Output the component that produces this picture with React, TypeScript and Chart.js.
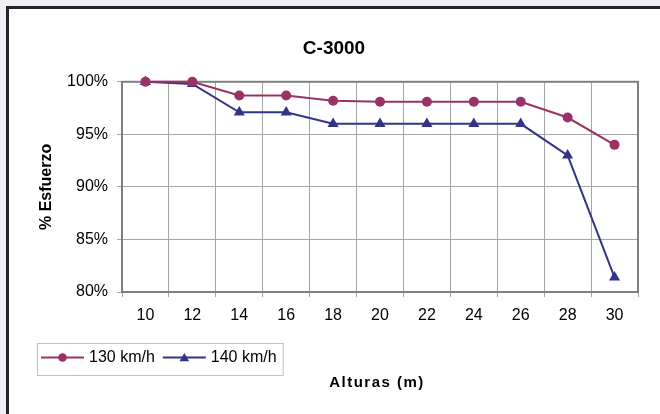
import React, { useEffect, useRef } from 'react';
import { Chart, registerables } from 'chart.js';

Chart.register(...registerables);

// Heights (m) along the category axis
const alturas = ['10', '12', '14', '16', '18', '20', '22', '24', '26', '28', '30'];

// Effort percentage per wind speed
const esfuerzo130 = [100, 100, 98.7, 98.7, 98.2, 98.1, 98.1, 98.1, 98.1, 96.6, 94.0];
const esfuerzo140 = [100, 99.8, 97.1, 97.1, 96.0, 96.0, 96.0, 96.0, 96.0, 93.0, 81.4];

const seriesLabels = ['130 km/h', '140 km/h'];
const seriesColors = ['#993366', '#333388'];
const seriesMarkers = ['circle', 'triangle'];

const yMin = 80;
const yMax = 100;
const yStep = 5;

const FONT = "'Liberation Sans', Arial, Helvetica, sans-serif";

function drawMarker(ctx: CanvasRenderingContext2D, style: string, x: number, y: number, r: number) {
  ctx.beginPath();
  if (style === 'triangle') {
    let rad = 0;
    ctx.moveTo(x + Math.sin(rad) * r, y - Math.cos(rad) * r);
    rad += (2 * Math.PI) / 3;
    ctx.lineTo(x + Math.sin(rad) * r, y - Math.cos(rad) * r);
    rad += (2 * Math.PI) / 3;
    ctx.lineTo(x + Math.sin(rad) * r, y - Math.cos(rad) * r);
    ctx.closePath();
  } else {
    ctx.arc(x, y, r, 0, Math.PI * 2);
  }
  ctx.fill();
}

// Grey frame around the plot area, drawn beneath the series
const plotFrame = {
  id: 'plotFrame',
  beforeDatasetsDraw(chart: any) {
    const { ctx, chartArea: a } = chart;
    ctx.save();
    ctx.strokeStyle = '#808080';
    ctx.lineWidth = 2;
    ctx.strokeRect(a.left, a.top, a.right - a.left, a.bottom - a.top);
    ctx.restore();
  },
};

// Axis title for the categories and the boxed legend below the plot
const bottomLegend = {
  id: 'bottomLegend',
  afterDraw(chart: any) {
    const { ctx, chartArea: a } = chart;
    ctx.save();

    ctx.fillStyle = '#000';
    ctx.font = `bold 15px ${FONT}`;
    (ctx as any).letterSpacing = '1.5px';
    ctx.textAlign = 'center';
    ctx.textBaseline = 'middle';
    ctx.fillText('Alturas (m)', (a.left + a.right) / 2 - 3, 383);
    (ctx as any).letterSpacing = '0px';

    const boxX = 37;
    const boxY = 343;
    const boxH = 32;
    const midY = boxY + boxH / 2 - 1.5;
    ctx.font = `16px ${FONT}`;
    ctx.textAlign = 'left';

    let x = boxX + 4;
    chart.data.datasets.forEach((ds: any) => {
      const color = ds.borderColor;
      ctx.strokeStyle = color;
      ctx.lineWidth = 2;
      ctx.beginPath();
      ctx.moveTo(x, midY);
      ctx.lineTo(x + 43, midY);
      ctx.stroke();
      ctx.fillStyle = color;
      const r = ds.pointStyle === 'triangle' ? 5.6 : 4.3;
      drawMarker(ctx, ds.pointStyle, x + 21.5, ds.pointStyle === 'triangle' ? midY + 1 : midY, r);
      ctx.fillStyle = '#000';
      ctx.fillText(ds.label, x + 48, midY + 0.5);
      x += 48 + ctx.measureText(ds.label).width + 8;
    });
    const boxW = x - 2 - boxX;
    ctx.strokeStyle = '#c0c0c0';
    ctx.lineWidth = 1;
    ctx.strokeRect(boxX + 0.5, boxY + 0.5, boxW, boxH);

    ctx.restore();
  },
};

export default function App() {
  const canvasRef = useRef<HTMLCanvasElement | null>(null);

  useEffect(() => {
    const canvas = canvasRef.current;
    if (!canvas) return;

    const values = [esfuerzo130, esfuerzo140];
    const chart = new Chart(canvas, {
      type: 'line',
      data: {
        labels: alturas,
        datasets: values.map((v, i) => ({
          label: seriesLabels[i],
          data: v,
          borderColor: seriesColors[i],
          backgroundColor: seriesColors[i],
          pointBackgroundColor: seriesColors[i],
          pointBorderColor: seriesColors[i],
          pointBorderWidth: 0,
          pointStyle: seriesMarkers[i],
          pointRadius: seriesMarkers[i] === 'triangle' ? 6.4 : 5,
          borderWidth: 2,
          tension: 0,
          fill: false,
          clip: false,
        })),
      },
      options: {
        responsive: false,
        animation: false,
        devicePixelRatio: 1,
        layout: { padding: { left: 30, top: 10, right: 22, bottom: 0 } },
        plugins: {
          legend: { display: false },
          tooltip: { enabled: false },
          title: {
            display: true,
            text: 'C-3000',
            color: '#000',
            font: { family: FONT, size: 19, weight: 'bold' },
            padding: { top: 27, bottom: 22 },
          },
        },
        scales: {
          x: {
            type: 'category',
            offset: true,
            grid: { offset: true, color: '#a6a6a6', lineWidth: 1, tickLength: 5, drawTicks: true },
            border: { display: false },
            ticks: { color: '#000', font: { family: FONT, size: 16 }, padding: 9, maxRotation: 0, autoSkip: false },
            afterFit: (scale: any) => {
              scale.height = 122;
            },
          },
          y: {
            min: yMin,
            max: yMax,
            grid: { color: '#a6a6a6', lineWidth: 1, tickLength: 5, drawTicks: true },
            border: { display: false },
            ticks: {
              stepSize: yStep,
              color: '#000',
              font: { family: FONT, size: 16 },
              padding: 9,
              callback: (v: any) => `${v}%`,
            },
            title: {
              display: true,
              text: '% Esfuerzo',
              color: '#000',
              font: { family: FONT, size: 16, weight: 'bold' },
              padding: { top: 7, bottom: 0 },
            },
            afterFit: (scale: any) => {
              scale.width = 92;
            },
          },
        },
      },
      plugins: [plotFrame, bottomLegend],
    } as any);

    return () => chart.destroy();
  }, []);

  return (
    <div
      style={{
        position: 'absolute',
        left: 0,
        top: 0,
        width: 660,
        height: 414,
        overflow: 'hidden',
        background: '#eff0f5',
      }}
    >
      <div
        style={{
          position: 'absolute',
          left: 6,
          top: 6,
          width: 700,
          height: 460,
          borderLeft: '3px solid #262626',
          borderTop: '3px solid #262626',
          background: '#ffffff',
        }}
      />
      <canvas
        ref={canvasRef}
        width={660}
        height={414}
        style={{ position: 'absolute', left: 0, top: 0, width: 660, height: 414 }}
      />
    </div>
  );
}
